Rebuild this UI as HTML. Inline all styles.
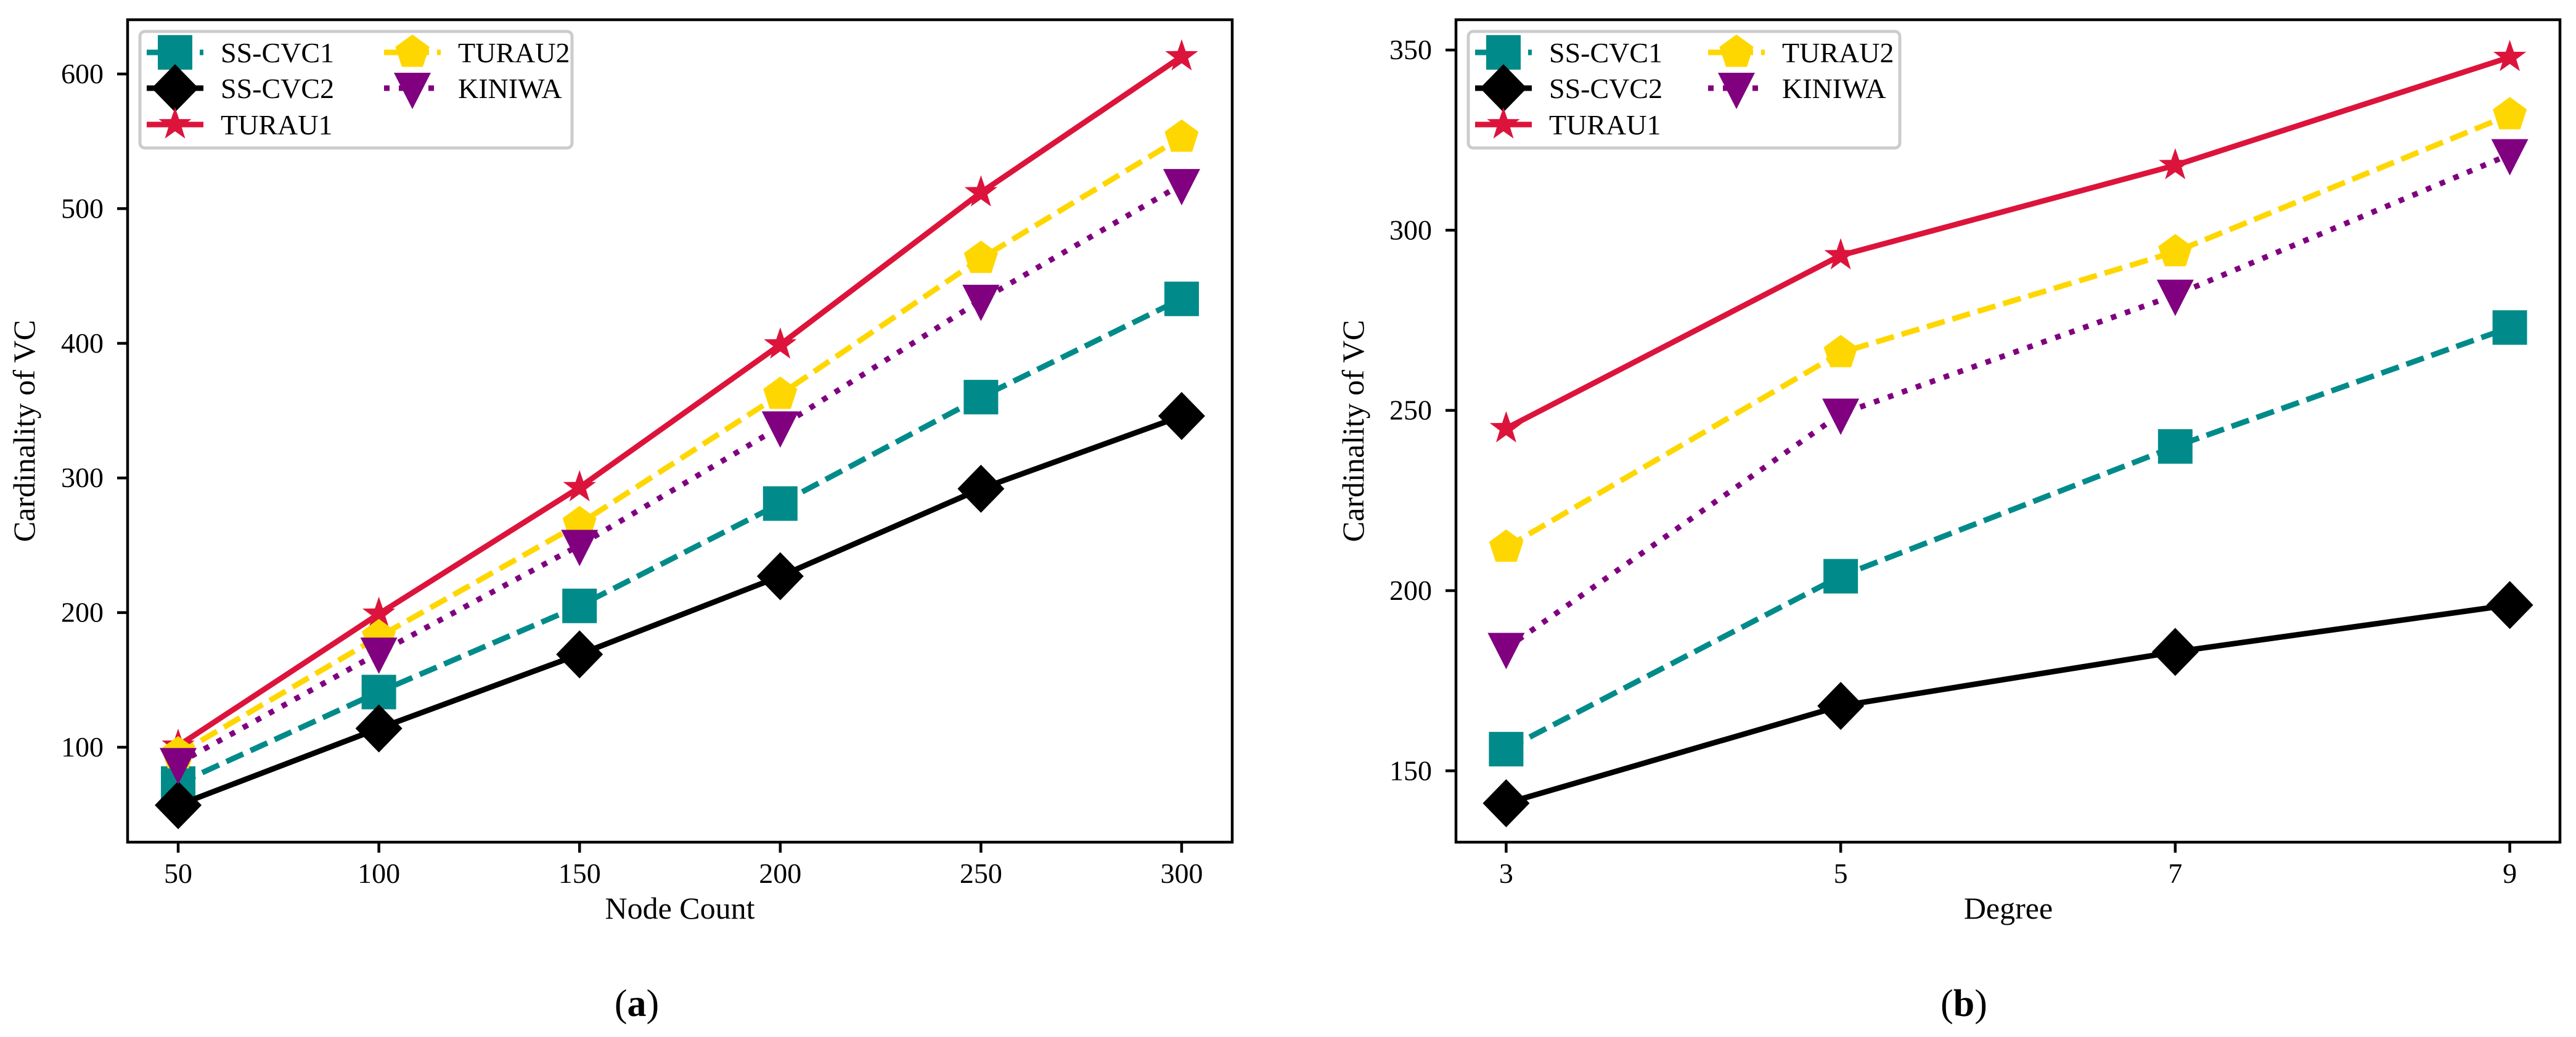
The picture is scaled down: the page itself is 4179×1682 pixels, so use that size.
<!DOCTYPE html>
<html><head><meta charset="utf-8"><style>
html,body{margin:0;padding:0;background:#fff;}
svg{display:block;}
text{font-family:"Liberation Serif","DejaVu Serif",serif;fill:#000;}
</style></head><body>
<svg id="fig" width="4179" height="1682" viewBox="0 0 4179 1682" xmlns="http://www.w3.org/2000/svg"></svg>
<script>
// ---------- data ----------
const seriesNames = ["SS-CVC1","SS-CVC2","TURAU1","TURAU2","KINIWA"];
const nodeCounts = [50,100,150,200,250,300];
const a_sscvc1 = [73,141,205,281,360,433];
const a_sscvc2 = [57,114,169,227,292,346];
const a_turau1 = [101,199,293,399,512,613];
const a_turau2 = [95,182,266,362,463,553];
const a_kiniwa = [88,170,250,338,432,518];
const a_yTicks = [100,200,300,400,500,600];
const degrees = [3,5,7,9];
const b_sscvc1 = [156,204,240,273];
const b_sscvc2 = [141,168,183,196];
const b_turau1 = [245,293,318,348];
const b_turau2 = [212,266,294,332];
const b_kiniwa = [184,249,282,321];
const b_yTicks = [150,200,250,300,350];

const NS="http://www.w3.org/2000/svg";
const svg=document.getElementById('fig');
function mk(tag,attrs,parent){const e=document.createElementNS(NS,tag);for(const k in attrs)e.setAttribute(k,attrs[k]);(parent||svg).appendChild(e);return e;}

const styles=[
 {color:"#008B8A",dash:"30,13",marker:"square"},
 {color:"#000000",dash:"",marker:"diamond"},
 {color:"#DC143C",dash:"",marker:"star"},
 {color:"#FFD700",dash:"30,13",marker:"pentagon"},
 {color:"#800080",dash:"9,15",marker:"tri"}
];

function markerPath(type,cx,cy){
  if(type==="square"){const s=28;return `M${cx-s},${cy-s}H${cx+s}V${cy+s}H${cx-s}Z`;}
  if(type==="diamond"){const w=38,h=39;return `M${cx},${cy-h}L${cx+w},${cy}L${cx},${cy+h}L${cx-w},${cy}Z`;}
  if(type==="tri"){return `M${cx-30},${cy-25}L${cx+30},${cy-25}L${cx},${cy+34}Z`;}
  if(type==="pentagon"){let d="";for(let i=0;i<5;i++){const a=-Math.PI/2+i*2*Math.PI/5;d+=(i?"L":"M")+(cx+29*Math.cos(a)).toFixed(1)+","+(cy+29*Math.sin(a)).toFixed(1);}return d+"Z";}
  if(type==="star"){let d="";for(let i=0;i<10;i++){const r=i%2?11:28;const a=-Math.PI/2+i*Math.PI/5;d+=(i?"L":"M")+(cx+r*Math.cos(a)).toFixed(1)+","+(cy+r*Math.sin(a)).toFixed(1);}return d+"Z";}
}

function drawPanel(cfg){
  const g=mk('g',{});
  
  
  const X=v=>cfg.L+(v-cfg.xmin)/(cfg.xmax-cfg.xmin)*(cfg.R-cfg.L);
  const Y=v=>cfg.B-(v-cfg.ymin)/(cfg.ymax-cfg.ymin)*(cfg.B-cfg.T);
  cfg.series.forEach((vals,si)=>{
    const st=styles[si];
    const sg=mk('g',{},g);
    
    
    const pts=vals.map((v,i)=>X(cfg.xs[i]).toFixed(1)+","+Y(v).toFixed(1)).join(" ");
    const pl=mk('polyline',{points:pts,fill:"none",stroke:st.color,"stroke-width":9,"stroke-linejoin":"round"},sg);
    if(st.dash)pl.setAttribute('stroke-dasharray',st.dash);
    
    
    vals.forEach((v,i)=>{
      const m=mk('path',{d:markerPath(st.marker,X(cfg.xs[i]),Y(v)),fill:st.color},sg);
      
      
    });
  });
  const fr=mk('rect',{x:cfg.L,y:cfg.T,width:cfg.R-cfg.L,height:cfg.B-cfg.T,fill:"none",stroke:"#000","stroke-width":4.5},g);
  
  
  cfg.xs.forEach(v=>{
    mk('line',{x1:X(v),x2:X(v),y1:cfg.B,y2:cfg.B+17,stroke:"#000","stroke-width":4.5},g);
    const t=mk('text',{x:X(v),y:1432,"font-size":46,"text-anchor":"middle"},g);
    t.textContent=v;
    
    
  });
  cfg.yt.forEach(v=>{
    mk('line',{x1:cfg.L-17,x2:cfg.L,y1:Y(v),y2:Y(v),stroke:"#000","stroke-width":4.5},g);
    const t=mk('text',{x:cfg.L-39,y:Y(v)+15,"font-size":46,"text-anchor":"end"},g);
    t.textContent=v;
    
    
  });
  const xl=mk('text',{x:cfg.xlx,y:1490,"font-size":50,"text-anchor":"middle"},g);
  xl.textContent=cfg.xlabel;
  
  
  const yl=mk('text',{x:0,y:0,"font-size":50,"text-anchor":"middle",transform:`translate(${cfg.ylx},${(cfg.T+cfg.B)/2}) rotate(-90)`},g);
  yl.textContent="Cardinality of VC";
  
  
  const cap=mk('text',{x:cfg.capx,y:1648,"font-size":62,"text-anchor":"middle"},g);
  cap.innerHTML='(<tspan font-weight="bold">'+cfg.cap+'</tspan>)';
  
  
  const lg=mk('g',{},g);
  
  
  mk('rect',{x:cfg.lx,y:51,width:cfg.lw,height:189,rx:8,fill:"#fff","fill-opacity":0.8,stroke:"#ccc","stroke-width":5},lg);
  const rows=[[0,0],[0,1],[0,2],[1,0],[1,1]];
  const rowY=[85,143,202];
  rows.forEach((rc,si)=>{
    const st=styles[si];
    const e=mk('g',{},lg);
    
    
    const hx=cfg.lx+11+rc[0]*(cfg.col2-cfg.lx);
    const y=rowY[rc[1]];
    const ln=mk('line',{x1:hx,x2:hx+92,y1:y,y2:y,stroke:st.color,"stroke-width":9},e);
    if(st.dash)ln.setAttribute('stroke-dasharray',st.dash);
    mk('path',{d:markerPath(st.marker,hx+46,y),fill:st.color},e);
    const t=mk('text',{x:hx+120,y:y+16,"font-size":46},e);
    t.textContent=seriesNames[si];
  });
}

drawPanel({name:"chart-a",L:207,R:1999,T:32,B:1366,xmin:37.4,xmax:312.6,ymin:29.5,ymax:640.3,
  xs:nodeCounts,yt:a_yTicks,series:[a_sscvc1,a_sscvc2,a_turau1,a_turau2,a_kiniwa],
  xlabel:"Node Count",xlx:1103,ylx:56,capx:1033,cap:"a",lx:227,lw:701,col2:612});
drawPanel({name:"chart-b",L:2362,R:4153,T:32,B:1366,xmin:2.70,xmax:9.30,ymin:130.2,ymax:358.4,
  xs:degrees,yt:b_yTicks,series:[b_sscvc1,b_sscvc2,b_turau1,b_turau2,b_kiniwa],
  xlabel:"Degree",xlx:3258,ylx:2212,capx:3186,cap:"b",lx:2382,lw:700,col2:2760});
</script>
</body></html>
